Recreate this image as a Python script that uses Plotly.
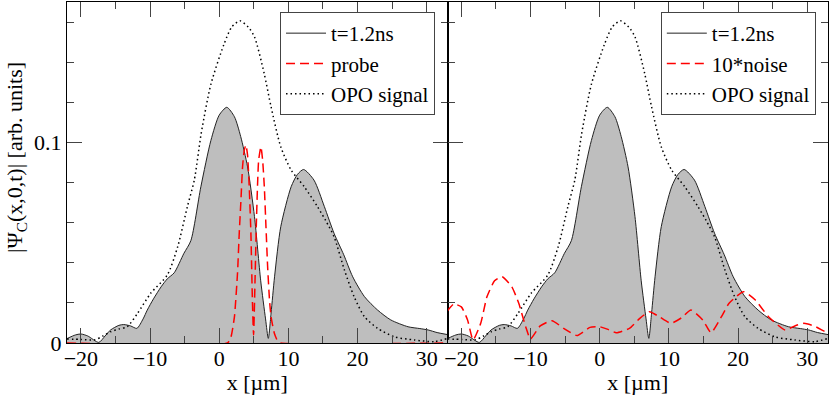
import plotly.graph_objects as go

# t=1.2ns wavefunction (same in both panels)
x_t = [-22, -20.8, -20, -19, -17.4, -16.5, -15.7, -14.5, -13.8, -12.8, -11.9, -11, -10.4, -9.5,
       -8.4, -7.5, -6.5, -5.1, -4.1, -2.65, -1.2, 0, 1.1, 2.2, 3.1, 4.1, 5.1, 6.0, 6.7, 7.1,
       7.5, 8.0, 8.9, 10.4, 11.3, 12.2, 13.7, 15.2, 16.6, 18.0, 19.3, 21.0, 22.9, 24.8, 27.3,
       29.0, 30.2, 31.5, 33]
y_t = [0.0022, 0.0040, 0.0045, 0.0035, 0.0003, 0.0035, 0.0065, 0.0088, 0.0092, 0.0085, 0.0073,
       0.0120, 0.0164, 0.0220, 0.0280, 0.0320, 0.0350, 0.0447, 0.0510, 0.0779, 0.1010, 0.1136,
       0.1175, 0.1128, 0.1030, 0.0878, 0.0630, 0.0310, 0.0120, 0.0023, 0.0150, 0.0330, 0.0580,
       0.0779, 0.0840, 0.0865, 0.0812, 0.0680, 0.0547, 0.0440, 0.0330, 0.0231, 0.0164, 0.0115,
       0.0081, 0.0072, 0.0065, 0.0052, 0.0042]

# OPO signal
x_opo = [-22, -20, -18, -16.8, -15.7, -14.5, -13.3, -11.8, -9.9, -7.5, -6.0, -4.6, -3.6, -2.6,
         -1.2, 0.7, 1.8, 3.0, 4.2, 5.1, 6.5, 7.5, 8.9, 10.4, 12.3, 14.2, 15.4, 16.6, 18.1, 19.5,
         21.0, 22.9, 25.3, 28.2, 31.1, 33]
y_opo = [0.0020, 0.0018, 0.0016, 0.0035, 0.0056, 0.0070, 0.0081, 0.0148, 0.0248, 0.0339, 0.0480,
         0.0680, 0.0812, 0.1045, 0.1290, 0.1490, 0.1575, 0.1606, 0.1575, 0.1526, 0.1344, 0.1177,
         0.0978, 0.0862, 0.0779, 0.0680, 0.0610, 0.0530, 0.0364, 0.0231, 0.0131, 0.0073, 0.0031,
         0.0015, 0.0007, 0.0023]

# probe (left panel)
x_probe = [-22, 1.2, 1.7, 2.2, 2.65, 2.9, 3.14, 3.38, 3.62, 3.86, 4.1, 4.34, 4.58, 4.8, 4.97,
           5.17, 5.4, 5.7, 6.03, 6.28, 6.52, 6.76, 7.0, 7.28, 7.5, 7.96, 8.44, 8.9, 33]
y_probe = [0, 0, 0.003, 0.013, 0.035, 0.055, 0.071, 0.088, 0.096, 0.0987, 0.0937, 0.078, 0.055,
           0.021, 0.004, 0.030, 0.063, 0.091, 0.0978, 0.091, 0.078, 0.058, 0.038, 0.021, 0.013,
           0.005, 0.001, 0, 0]

# 10*noise (right panel)
x_noise = [-22.1, -21.1, -20.0, -19.1, -18.3, -17.2, -16.3, -15.2, -14.1, -12.7, -11.7, -10.7,
           -10.0, -8.6, -6.9, -5.2, -3.3, -1.4, 0, 1.2, 2.4, 4.3, 5.8, 7.2, 8.6, 10.3, 11.8, 13.2,
           14.9, 16.1, 17.6, 18.7, 20.8, 22.5, 24.4, 26.8, 28.2, 29.5, 31.0, 32.6, 33]
y_noise = [0.0156, 0.0194, 0.0180, 0.0115, 0.0015, 0.0098, 0.0230, 0.0310, 0.0330, 0.0280, 0.0198,
           0.0081, 0.0020, 0.0085, 0.0111, 0.0073, 0.0037, 0.0078, 0.0081, 0.0068, 0.0051, 0.0073,
           0.0123, 0.0156, 0.0131, 0.0098, 0.0125, 0.0164, 0.0115, 0.0051, 0.0131, 0.0198, 0.0256,
           0.0214, 0.0131, 0.0065, 0.0085, 0.0098, 0.0085, 0.0056, 0.0050]

FONT = "Liberation Serif, Times New Roman, serif"
fill_grey = '#bebebe'
red_dash = '9px,5px'
dots = '1.5px,3px'

fig = go.Figure()
for xa, ya, leg, red_x, red_y, red_name in [
        ('x', 'y', 'legend', x_probe, y_probe, 'probe'),
        ('x2', 'y2', 'legend2', x_noise, y_noise, '10*noise')]:
  # grey area under the t=1.2ns curve (no legend entry)
  fig.add_trace(go.Scatter(
    x=x_t, y=y_t, xaxis=xa, yaxis=ya, showlegend=False, hoverinfo='skip',
    mode='lines', line=dict(width=0, shape='spline', smoothing=0.7),
    fill='tozeroy', fillcolor=fill_grey,
  ))
  fig.add_trace(go.Scatter(
    x=x_t, y=y_t, name='t=1.2ns', xaxis=xa, yaxis=ya, legend=leg,
    mode='lines', line=dict(color='#222222', width=1, shape='spline', smoothing=0.7),
  ))
  fig.add_trace(go.Scatter(
    x=red_x, y=red_y, name=red_name, xaxis=xa, yaxis=ya, legend=leg,
    mode='lines', line=dict(color='#ff0000', width=1.5, dash=red_dash, shape='spline', smoothing=0.5),
  ))
  fig.add_trace(go.Scatter(
    x=x_opo, y=y_opo, name='OPO signal', xaxis=xa, yaxis=ya, legend=leg,
    mode='lines', line=dict(color='black', width=1.5, dash=dots, shape='spline', smoothing=0.7),
  ))

xaxis_common = dict(
  range=[-22, 33], tick0=0, dtick=10, ticks='inside', ticklen=15, tickcolor='#444444',
  minor=dict(dtick=5, ticklen=7, ticks='inside', tickcolor='#444444'),
  showline=True, linecolor='black', linewidth=1, mirror='ticks',
  showgrid=False, zeroline=False, ticklabelstandoff=-4,
  tickfont=dict(family=FONT, size=22, color='black'),
  title=dict(text='x [µm]', font=dict(family=FONT, size=22, color='black'), standoff=4),
)
yaxis_common = dict(
  range=[0, 0.17], tick0=0, dtick=0.1, ticks='inside', ticklen=15, tickcolor='#444444',
  minor=dict(dtick=0.02, ticklen=7, ticks='inside', tickcolor='#444444'),
  showline=True, linecolor='black', linewidth=1, mirror='ticks',
  showgrid=False, zeroline=False,
  tickfont=dict(family=FONT, size=22, color='black'),
)

legend_common = dict(
  font=dict(family=FONT, size=21, color='black'),
  bgcolor='white', bordercolor='#444444', borderwidth=1,
  xanchor='right', yanchor='top', tracegroupgap=0, itemwidth=40,
)

fig.update_layout(
  width=830, height=395,
  margin=dict(l=67, r=2, t=2, b=52),
  plot_bgcolor='white', paper_bgcolor='white',
  xaxis=dict(domain=[0, 0.5], anchor='y', **xaxis_common),
  xaxis2=dict(domain=[0.5, 1], anchor='y2', **xaxis_common),
  yaxis=dict(anchor='x', **yaxis_common),
  yaxis2=dict(anchor='x2', showticklabels=False, **yaxis_common),
  legend=dict(x=0.4836, y=0.9707, **legend_common),
  legend2=dict(x=0.984, y=0.9707, **legend_common),
  annotations=[dict(
    text='|Ψ<sub>C</sub>(x,0,t)| [arb. units]', textangle=-90,
    xref='paper', yref='paper', x=0, y=0.5425, xshift=-51, xanchor='center', yanchor='middle',
    showarrow=False, font=dict(family=FONT, size=22, color='black'),
  )],
)

# page body has a default 8px margin; drop it so the figure sits at the window corner
fig.write_html("out.html", config={'displayModeBar': False},
               post_script="document.body.style.margin='0';")
